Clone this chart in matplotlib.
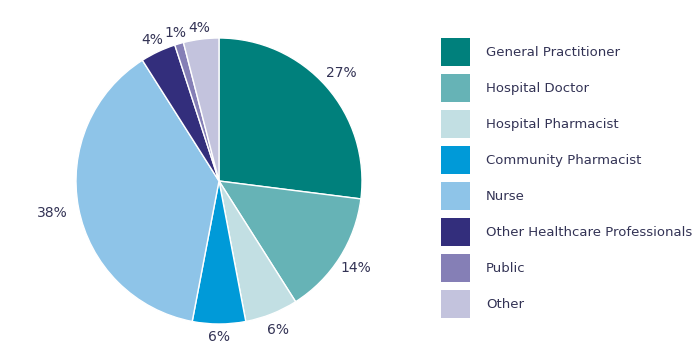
import numpy as np
import matplotlib.pyplot as plt
from matplotlib.patches import Patch

labels = ['General Practitioner', 'Hospital Doctor', 'Hospital Pharmacist',
          'Community Pharmacist', 'Nurse', 'Other Healthcare Professionals',
          'Public', 'Other']
values = [27, 14, 6, 6, 38, 4, 1, 4]
colors = ['#00807c', '#66b3b6', '#c2dfe3', '#009ad8', '#8ec4e8',
          '#332e7c', '#857fb6', '#c3c3dd']

# how far out each percentage label sits (in pie radii)
label_dist = [1.14, 1.13, 1.12, 1.09, 1.19, 1.09, 1.08, 1.08]

text_color = '#333355'

fig = plt.figure(figsize=(7, 3.52), dpi=100)
ax = fig.add_axes([76 / 700, 28 / 352, 286 / 700, 286 / 352])

wedges, _ = ax.pie(
    values, colors=colors, startangle=90, counterclock=False,
    wedgeprops=dict(edgecolor='white', linewidth=1.0))

for w, v, d in zip(wedges, values, label_dist):
    ang = np.deg2rad((w.theta1 + w.theta2) / 2)
    ax.text(d * np.cos(ang), d * np.sin(ang), f'{v}%', ha='center', va='center',
            fontsize=10, color=text_color)

ax.set_xlim(-1, 1)
ax.set_ylim(-1, 1)
ax.set_aspect('equal')

handles = [Patch(facecolor=c, edgecolor='none') for c in colors]
fig.legend(handles, labels, loc='upper left', bbox_to_anchor=(441 / 700, 1 - 38 / 352),
           frameon=False, borderpad=0, borderaxespad=0,
           handlelength=2.2, handleheight=2.885, labelspacing=0.61,
           handletextpad=1.2, fontsize=9.5, labelcolor=text_color)

fig.savefig('out.png', dpi=100)
